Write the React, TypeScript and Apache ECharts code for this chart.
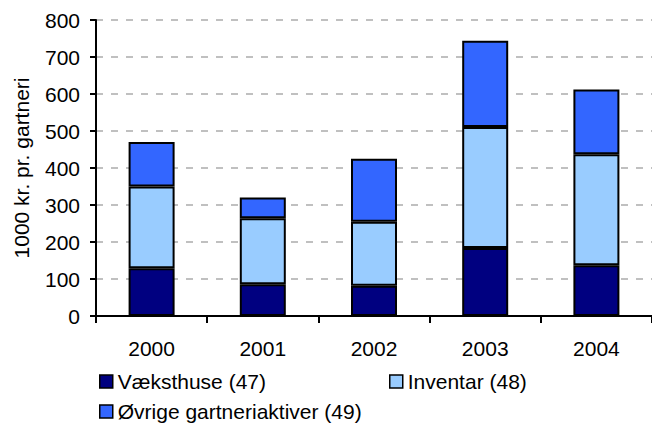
import React, { useEffect, useRef } from "react";
import * as echarts from "echarts";

const categories = ["2000", "2001", "2002", "2003", "2004"];
const vaeksthuse = [129, 86, 82, 184, 137];
const inventar = [221, 178, 173, 327, 300];
const oevrige = [120, 56, 170, 233, 175];
const seriesNames = ["Væksthuse (47)", "Inventar (48)", "Øvrige gartneriaktiver (49)"];
const colors = ["#000080", "#99CCFF", "#3366FF"];

const FONT = "'Liberation Sans', Arial, sans-serif";

export default function App() {
  const ref = useRef<HTMLDivElement>(null);
  useEffect(() => {
    document.body.style.margin = "0";
    if (!ref.current) return;
    const chart = echarts.init(ref.current, undefined, { renderer: "svg" });
    const values = [vaeksthuse, inventar, oevrige];
    const legendPos = [
      { left: 99, top: 371 },
      { left: 389, top: 371 },
      { left: 99, top: 401 },
    ];
    chart.setOption({
      animation: false,
      backgroundColor: "#ffffff",
      textStyle: { fontFamily: FONT },
      grid: { left: 96, top: 20, width: 563, height: 296, containLabel: false },
      legend: seriesNames.map((n, i) => ({
        data: [n],
        left: legendPos[i].left,
        top: legendPos[i].top,
        padding: 0,
        icon: "rect",
        itemWidth: 13,
        itemHeight: 13,
        itemStyle: { borderColor: "#000", borderWidth: 1.5 },
        textStyle: { fontFamily: FONT, fontSize: 21, color: "#000" },
        selectedMode: false,
      })),
      xAxis: {
        type: "category",
        data: categories,
        axisLine: { lineStyle: { color: "#000", width: 2 } },
        axisTick: { show: true, length: 7, lineStyle: { color: "#000", width: 2 } },
        axisLabel: { color: "#000", fontSize: 21, margin: 22, fontFamily: FONT },
      },
      yAxis: {
        type: "value",
        min: 0,
        max: 800,
        interval: 100,
        name: "1000 kr. pr. gartneri",
        nameLocation: "middle",
        nameGap: 64,
        nameTextStyle: { color: "#000", fontSize: 21, fontFamily: FONT },
        axisLine: { show: true, lineStyle: { color: "#000", width: 2 } },
        axisTick: { show: true, length: 6, lineStyle: { color: "#000", width: 2 } },
        axisLabel: { color: "#000", fontSize: 21, margin: 16, fontFamily: FONT },
        splitLine: { lineStyle: { color: "#C0C0C0", width: 2, type: [7, 8] } },
      },
      series: seriesNames.map((n, i) => ({
        name: n,
        type: "bar",
        stack: "total",
        data: values[i],
        barWidth: 46,
        itemStyle: { color: colors[i], borderColor: "#000", borderWidth: 2 },
      })),
    });
    return () => chart.dispose();
  }, []);
  return <div ref={ref} style={{ width: 652, height: 425 }} />;
}
